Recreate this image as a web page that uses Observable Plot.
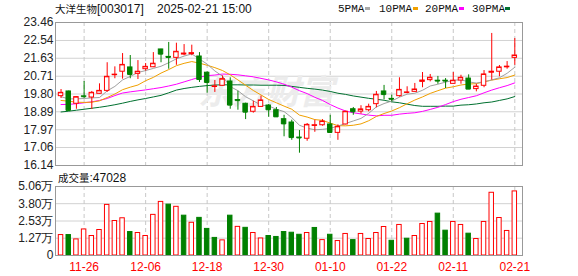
<!DOCTYPE html>
<html><head><meta charset="utf-8">
<script src="https://cdn.jsdelivr.net/npm/d3@7"></script>
<script src="https://cdn.jsdelivr.net/npm/@observablehq/plot@0.6"></script>
<style>
body{margin:0;background:#fff;}
#wrap{position:relative;width:578px;height:276px;overflow:hidden;font-family:"Liberation Sans","Noto Sans CJK SC",sans-serif;color:#111;}
.abs{position:absolute;white-space:pre;line-height:1;}
.cjk{font-family:"Noto Sans CJK SC",sans-serif;}
.lg{font-family:"Liberation Mono",monospace;font-size:11px;color:#111;}
.sq{position:absolute;width:5px;height:3px;}
svg.p{position:absolute;left:0;}
</style></head>
<body><div id="wrap">
<div class="abs" style="left:55px;top:3px;font-size:12px;"><span class="cjk" style="font-size:10.5px">大洋生物</span>[003017]</div>
<div class="abs" style="left:157px;top:3px;font-size:12px;">2025-02-21 15:00</div>
<div class="abs lg" style="left:338px;top:4px;">5PMA</div><div class="sq" style="left:365px;top:7px;background:#a8a8a8"></div>
<div class="abs lg" style="left:379px;top:4px;">10PMA</div><div class="sq" style="left:413px;top:7px;background:#f0a000"></div>
<div class="abs lg" style="left:425px;top:4px;">20PMA</div><div class="sq" style="left:459px;top:7px;background:#ff00ff"></div>
<div class="abs lg" style="left:472px;top:4px;">30PMA</div><div class="sq" style="left:505px;top:7px;background:#00702f"></div>
<div class="abs" style="left:58px;top:172px;font-size:12px;"><span class="cjk" style="font-size:10.5px">成交量</span>:47028</div>
</div>
<script>
const dates = ["11-21","11-22","11-25","11-26","11-27","11-28","11-29","12-02","12-03","12-04","12-05","12-06","12-09","12-10","12-11","12-12","12-13","12-16","12-17","12-18","12-19","12-20","12-23","12-24","12-25","12-26","12-27","12-30","12-31","01-02","01-03","01-06","01-07","01-08","01-09","01-10","01-13","01-14","01-15","01-16","01-17","01-20","01-21","01-22","01-23","01-24","01-27","02-05","02-06","02-07","02-10","02-11","02-12","02-13","02-14","02-17","02-18","02-19","02-20","02-21"];
const openP  = [19.69,19.93,19.30,19.68,19.62,19.81,19.96,20.77,20.94,21.16,20.83,21.07,21.17,22.08,21.70,21.65,21.82,21.84,21.72,20.89,20.16,20.22,20.44,19.49,19.30,18.89,19.14,19.21,18.97,18.51,18.34,17.57,17.51,18.17,18.20,18.24,17.81,18.24,19.02,18.90,18.97,19.28,19.93,19.55,19.69,19.86,19.91,20.42,20.51,20.48,20.48,20.32,20.49,20.59,20.05,20.22,20.89,20.94,21.17,21.65];
const highP  = [20.03,19.95,19.66,20.44,19.93,20.32,21.40,21.19,21.87,21.77,21.51,21.36,21.92,22.09,22.44,22.40,22.33,22.30,21.92,20.93,20.49,20.73,20.63,19.94,19.33,19.43,19.69,19.26,19.11,18.71,18.46,17.93,18.29,18.46,18.49,18.71,18.22,18.92,19.11,19.20,19.28,19.93,20.24,19.74,20.63,20.17,20.34,20.90,20.80,20.70,20.59,20.90,20.76,20.78,20.30,21.00,22.90,21.26,21.46,22.64];
const lowP   = [19.57,18.94,19.02,19.57,19.01,19.80,19.88,20.58,20.56,20.58,20.54,20.97,21.15,21.40,21.07,21.27,21.76,21.76,20.39,19.84,19.88,20.21,19.02,18.97,18.49,18.82,19.12,18.61,18.60,17.61,17.43,16.77,17.38,17.84,18.15,17.79,17.43,18.22,18.71,18.77,18.89,19.09,19.50,19.40,19.64,19.81,19.91,20.12,20.42,20.30,20.08,20.30,20.30,20.03,19.91,20.12,20.51,20.68,21.07,21.27];
const closeP = [19.86,18.96,19.64,19.66,19.86,19.96,20.68,20.79,21.29,20.80,20.94,21.19,21.35,21.84,21.67,21.96,21.87,21.89,20.54,20.39,20.19,20.56,19.23,19.46,18.87,19.14,19.47,18.99,18.63,18.27,17.57,17.55,18.22,18.20,18.39,17.83,18.12,18.89,18.89,19.01,19.14,19.76,19.77,19.53,20.01,19.88,20.03,20.49,20.63,20.46,20.46,20.48,20.63,20.05,20.18,20.80,20.94,21.16,21.20,21.77];
const volume = [1.50,1.50,1.18,1.91,1.43,1.87,3.71,2.53,2.73,1.72,1.65,1.43,2.98,3.93,3.73,3.57,2.92,2.40,2.76,1.95,1.29,1.11,2.92,2.10,2.03,1.65,1.25,1.43,1.36,1.72,1.67,1.52,1.65,2.02,1.13,1.52,1.06,1.58,1.13,1.58,1.21,1.65,2.09,1.08,2.24,1.23,1.43,2.31,2.46,3.07,1.82,2.46,2.24,1.60,1.21,2.46,4.60,2.75,1.80,4.70];
const volUp  = [1,0,1,1,1,1,1,1,1,0,1,1,1,1,0,1,0,1,0,0,0,1,0,1,0,1,1,0,0,0,0,0,1,0,1,0,1,1,0,1,1,1,1,0,1,0,1,1,1,0,0,1,1,0,1,1,1,1,1,1];
const ma5  = [19.66,19.55,19.55,19.57,19.60,19.62,19.96,20.19,20.52,20.70,20.90,21.00,21.11,21.22,21.40,21.60,21.74,21.85,21.59,21.33,20.98,20.71,20.18,19.97,19.66,19.45,19.23,19.19,19.02,18.90,18.59,18.20,18.05,17.97,17.99,18.04,18.16,18.29,18.42,18.55,18.81,19.14,19.31,19.44,19.64,19.79,19.84,19.99,20.21,20.30,20.41,20.50,20.53,20.42,20.36,20.43,20.52,20.63,20.86,21.17];
const ma10 = [19.47,19.43,19.38,19.37,19.38,19.45,19.62,19.80,20.02,20.15,20.26,20.48,20.65,20.87,21.05,21.25,21.37,21.46,21.38,21.27,21.15,21.00,20.78,20.52,20.25,19.98,19.75,19.52,19.35,19.18,19.02,18.72,18.62,18.49,18.45,18.31,18.18,18.17,18.20,18.27,18.43,18.65,18.80,18.93,19.10,19.30,19.49,19.65,19.83,19.97,20.10,20.17,20.26,20.31,20.33,20.42,20.51,20.58,20.64,20.77];
const ma20 = [19.26,19.27,19.30,19.35,19.40,19.47,19.57,19.72,19.85,19.91,19.96,20.01,20.07,20.13,20.21,20.30,20.42,20.54,20.66,20.74,20.77,20.82,20.81,20.78,20.73,20.68,20.60,20.52,20.42,20.30,20.15,19.97,19.82,19.63,19.47,19.26,19.08,18.93,18.84,18.78,18.72,18.68,18.71,18.71,18.77,18.81,18.84,18.91,19.01,19.12,19.26,19.41,19.53,19.62,19.71,19.86,20.00,20.12,20.23,20.37];
const ma30 = [18.88,18.92,18.97,19.02,19.07,19.12,19.18,19.25,19.33,19.42,19.50,19.57,19.65,19.73,19.86,20.00,20.08,20.14,20.19,20.23,20.26,20.27,20.27,20.27,20.26,20.26,20.25,20.25,20.25,20.24,20.19,20.14,20.09,20.05,20.00,19.93,19.84,19.78,19.70,19.64,19.58,19.53,19.48,19.40,19.35,19.28,19.21,19.17,19.17,19.17,19.18,19.18,19.23,19.25,19.29,19.35,19.39,19.47,19.55,19.67];
const priceTicks = [16.14,17.06,17.97,18.89,19.80,20.71,21.63,22.54,23.46];
const volTicks = [0,1.27,2.53,3.80,5.06];
const dateTicks = ["11-26","12-06","12-18","12-30","01-10","01-22","02-11","02-21"];

const RED = "#ff0000", GREEN = "#008000";
const rows = dates.map((d, i) => ({i, d, o: openP[i], h: highP[i], l: lowP[i], c: closeP[i], v: volume[i], vu: volUp[i],
  m5: ma5[i], m10: ma10[i], m20: ma20[i], m30: ma30[i]}));
const tickIdx = dateTicks.map(t => dates.indexOf(t));
const isUp = r => r.c >= r.o;
const HW = 0.29;
const baseStyle = {background: "transparent", fontFamily: "Liberation Sans, sans-serif", fontSize: "12px", color: "#222", overflow: "visible"};
const xDomain = [-0.72, 60.0];

const main = Plot.plot({
  width: 578, height: 170, marginLeft: 55, marginRight: 56, marginTop: 22, marginBottom: 5,
  x: {domain: xDomain, axis: null, label: null},
  y: {domain: [16.14, 23.46], label: null},
  color: {type: "identity"},
  style: baseStyle,
  marks: [
    Plot.ruleY(priceTicks.slice(1, -1), {stroke: "#d2d2d2"}),
    Plot.ruleX(tickIdx, {stroke: "#c8c8c8", strokeDasharray: "4,3"}),
    Plot.text(["东方财富"], {frameAnchor: "middle", text: d => d, dx: -23, dy: -1, fontSize: 34, fontWeight: "bold", fontStyle: "italic", fill: "#ececec", fontFamily: "Noto Sans CJK SC"}),
    Plot.line(rows, {x: "i", y: "m30", stroke: "#00702f", strokeWidth: 1}),
    Plot.line(rows, {x: "i", y: "m20", stroke: "#ff00ff", strokeWidth: 1}),
    Plot.line(rows, {x: "i", y: "m10", stroke: "#f0a000", strokeWidth: 1}),
    Plot.line(rows, {x: "i", y: "m5", stroke: "#a0a0a0", strokeWidth: 1}),
    Plot.ruleX(rows, {x: "i", y1: "l", y2: "h", stroke: r => isUp(r) ? RED : GREEN}),
    Plot.rect(rows, {x1: r => r.i - HW, x2: r => r.i + HW, y1: r => Math.min(r.o, r.c), y2: r => Math.max(r.o, r.c),
      fill: r => isUp(r) ? "#ffffff" : GREEN, stroke: r => isUp(r) ? RED : GREEN, strokeWidth: 1}),
    Plot.ruleY(rows, {y: "c", x1: r => r.i - HW, x2: r => r.i + HW, stroke: r => isUp(r) ? RED : GREEN}),
    Plot.frame({stroke: "#999"}),
    Plot.axisY(priceTicks, {tickSize: 0, tickPadding: 2, tickFormat: d => d.toFixed(2), color: "#222", label: null})
  ]
});
main.classList.add("p"); main.style.top = "0px";

const vol = Plot.plot({
  width: 578, height: 106, marginLeft: 55, marginRight: 56, marginTop: 16, marginBottom: 21,
  x: {domain: xDomain, label: null},
  y: {domain: [0, 5.06], label: null},
  color: {type: "identity"},
  style: baseStyle,
  marks: [
    Plot.ruleY(volTicks.slice(1, -1), {stroke: "#d2d2d2"}),
    Plot.ruleX(tickIdx, {stroke: "#c8c8c8", strokeDasharray: "4,3"}),
    Plot.rect(rows, {x1: r => r.i - HW, x2: r => r.i + HW, y1: 0, y2: "v",
      fill: r => r.vu ? "#ffffff" : GREEN, stroke: r => r.vu ? RED : GREEN, strokeWidth: 1}),
    Plot.frame({stroke: "#999"}),
    Plot.axisY(volTicks, {tickSize: 0, tickPadding: 2, tickFormat: d => d === 0 ? "0" : d.toFixed(2) + "万", color: "#222", label: null}),
    Plot.axisX(tickIdx, {tickSize: 0, tickPadding: 7, tickFormat: i => dates[i], color: "#ff0000", label: null})
  ]
});
vol.classList.add("p"); vol.style.top = "170px";

const wrap = document.getElementById("wrap");
wrap.insertBefore(vol, wrap.firstChild);
wrap.insertBefore(main, wrap.firstChild);
</script>
</body></html>
